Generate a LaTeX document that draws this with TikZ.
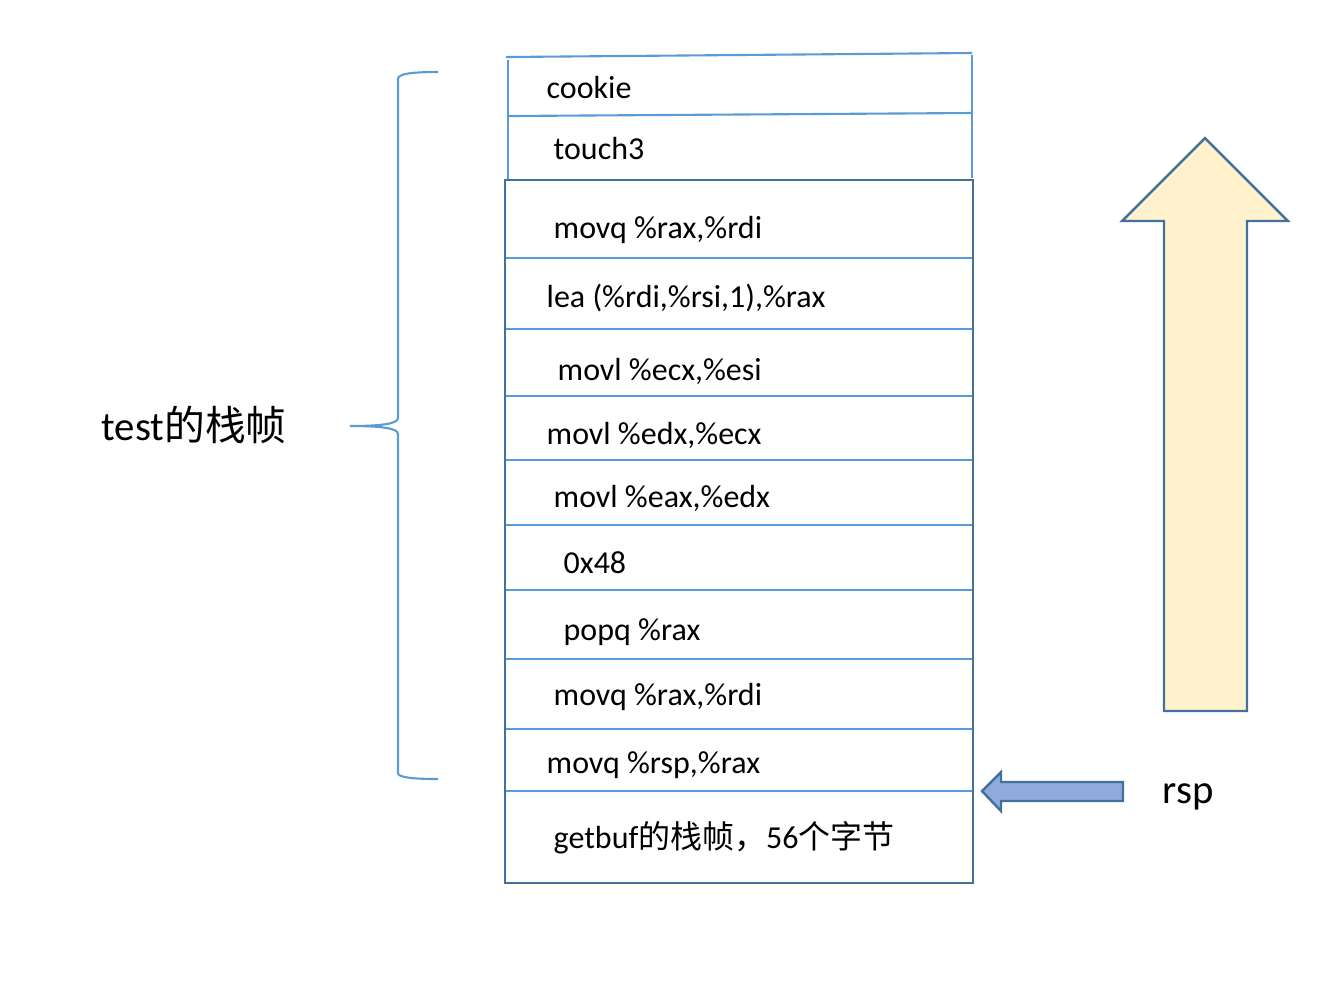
\documentclass[tikz,border=0pt]{standalone}
\usepackage{fontspec}
\setmainfont{Carlito}
\newfontfamily\cjk{Noto Sans CJK SC}
\definecolor{lineblue}{HTML}{5B9BD5}
\definecolor{boxblue}{HTML}{41719C}
\definecolor{rspfill}{HTML}{8FAADC}
\definecolor{upfill}{HTML}{FFF2CC}
\tikzset{
  cell/.style={draw=lineblue,line width=0.6pt},
  word/.style={anchor=base west,inner sep=0pt,font=\fontsize{9.1}{11}\selectfont},
  big/.style={anchor=base west,inner sep=0pt,font=\fontsize{11.6}{14}\selectfont}
}

\begin{document}
\begin{tikzpicture}[y=-1cm]
      \useasboundingbox (0,0) rectangle (13.41,9.83);
      % cookie and touch3 above the frame
      \draw[cell] (5.06,0.57) -- (9.72,0.53);
      \draw[cell] (5.08,0.60) -- (5.08,1.80);
      \draw[cell] (9.72,0.55) -- (9.72,1.78);
      \draw[cell] (5.08,1.16) -- (9.72,1.13);
      \foreach \y in {2.58,3.29,3.96,4.60,5.25,5.90,6.59,7.29,7.91}
        \draw[cell] (5.06,\y) -- (9.72,\y);
      \draw[boxblue,line width=0.6pt] (5.05,1.80) rectangle (9.73,8.83);
      \node[word] (cookie) at (5.46,0.98) {cookie};
      \node[word] (touch) at (5.53,1.59) {touch3};
      \node[word] (movqa) at (5.53,2.38) {movq \%rax,\%rdi};
      \node[word] (lea) at (5.46,3.07) {lea (\%rdi,\%rsi,1),\%rax};
      \node[word] (movla) at (5.57,3.80) {movl \%ecx,\%esi};
      \node[word] (movlb) at (5.46,4.44) {movl \%edx,\%ecx};
      \node[word] (movlc) at (5.53,5.07) {movl \%eax,\%edx};
      \node[word] (hex) at (5.63,5.73) {0x48};
      \node[word] (popq) at (5.63,6.40) {popq \%rax};
      \node[word] (movqb) at (5.53,7.05) {movq \%rax,\%rdi};
      \node[word] (movqc) at (5.46,7.73) {movq \%rsp,\%rax};
      \node[word] (getbuf) at (5.53,8.48) {getbuf{\cjk 的栈帧，}56{\cjk 个字节}};
      % brace for the test frame
      \draw[lineblue,line width=0.6pt] (4.38,0.72) .. controls (4.10,0.72) and (3.98,0.74) .. (3.98,0.79)
        -- (3.98,4.18) .. controls (3.98,4.24) and (3.80,4.26) .. (3.50,4.26)
        .. controls (3.80,4.26) and (3.98,4.28) .. (3.98,4.34)
        -- (3.98,7.73) .. controls (3.98,7.77) and (4.10,7.79) .. (4.38,7.79);
      \node[big] (test) at (1.01,4.40) {test{\cjk 的栈帧}};
      % growth arrow
      \draw[boxblue,fill=upfill,line width=0.7pt] (12.05,1.38) -- (12.88,2.21) -- (12.47,2.21) -- (12.47,7.11)
        -- (11.64,7.11) -- (11.64,2.21) -- (11.22,2.21) -- cycle;
      % rsp pointer
      \draw[boxblue,fill=rspfill,line width=0.7pt] (9.82,7.91) -- (10.01,7.72) -- (10.01,7.82) -- (11.23,7.82)
        -- (11.23,8.01) -- (10.01,8.01) -- (10.01,8.11) -- cycle;
      \node[big] (rsp) at (11.62,8.03) {rsp};
\end{tikzpicture}
\end{document}
